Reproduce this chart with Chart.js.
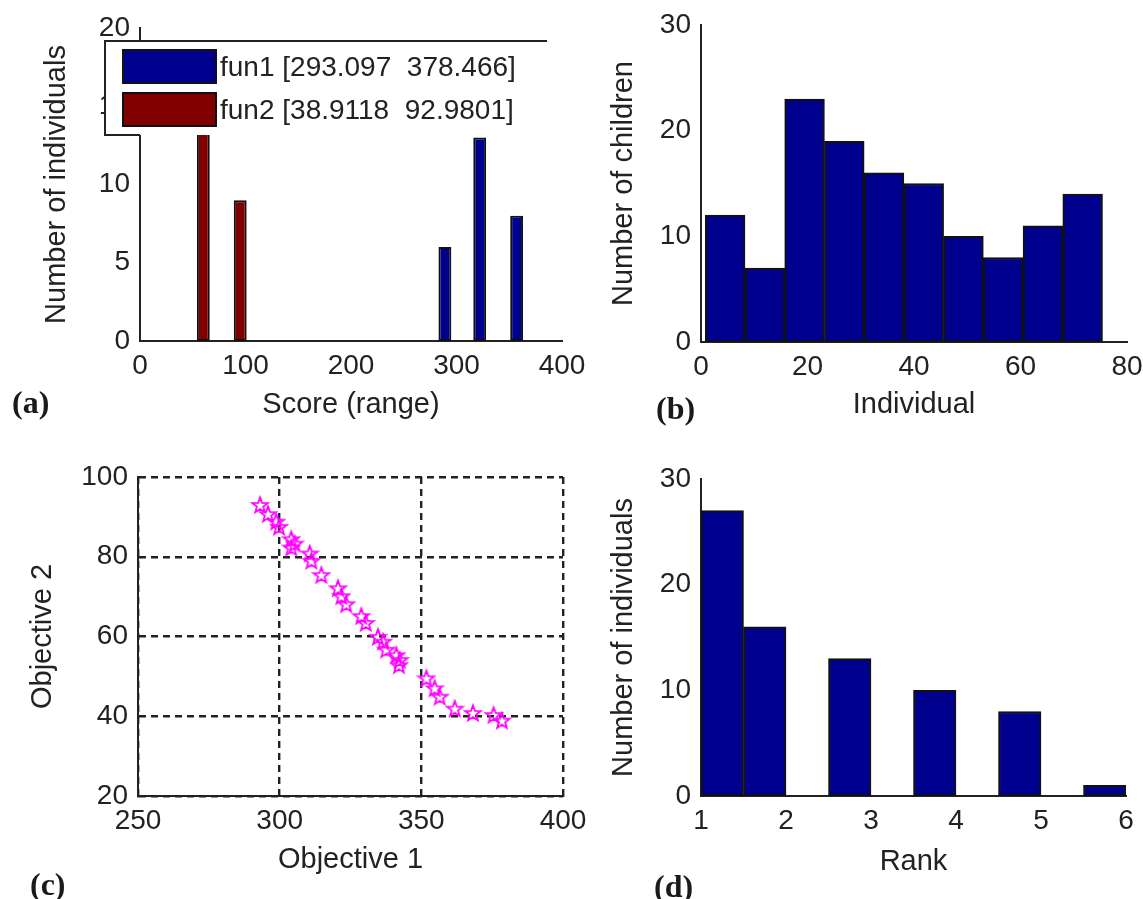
<!DOCTYPE html>
<html>
<head>
<meta charset="utf-8">
<script src="https://cdn.jsdelivr.net/npm/chart.js@4.4.0/dist/chart.umd.min.js"></script>
<style>
body { margin: 0; background: #fff; width: 1143px; height: 899px; overflow: hidden; position: relative; }
canvas { position: absolute; }
.lbl { position: absolute; font: bold 32px "Liberation Serif", serif; line-height: 36px; color: #1a1a1a; }
</style>
</head>
<body>
<canvas id="cA" width="600" height="440" style="left:0;top:0"></canvas>
<canvas id="cB" width="563" height="440" style="left:580px;top:0"></canvas>
<canvas id="cC" width="600" height="459" style="left:0;top:440px"></canvas>
<canvas id="cD" width="563" height="459" style="left:580px;top:440px"></canvas>
<div class="lbl" style="left:12px;top:384px">(a)</div>
<div class="lbl" style="left:656px;top:390px">(b)</div>
<div class="lbl" style="left:30px;top:866px">(c)</div>
<div class="lbl" style="left:654px;top:868px">(d)</div>
<script>
// (a) score histograms
var fun1Bins = [289, 322, 357];
var fun1Count = [6, 13, 8];
var fun2Bins = [60, 95];
var fun2Count = [18, 9];
var aXTicks = [0, 100, 200, 300, 400];
var aYTicks = [0, 5, 10, 15, 20];
var aLegend = ['fun1 [293.097  378.466]', 'fun2 [38.9118  92.9801]'];

// (b) children per individual
var bBins = [4.53, 11.99, 19.45, 26.91, 34.37, 41.83, 49.29, 56.75, 64.21, 71.67];
var bCount = [12, 7, 23, 19, 16, 15, 10, 8, 11, 14];
var bXTicks = [0, 20, 40, 60, 80];
var bYTicks = [0, 10, 20, 30];

// (c) pareto front
var obj1 = [293.1, 295.9, 298.8, 299.8, 304.1, 305.3, 304.1, 310.6, 311.2, 314.7, 320.6, 321.8, 323.5, 328.8,
            330.4, 334.7, 336.5, 337.6, 341.2, 342.4, 342.1, 351.8, 354.7, 356.5, 361.8, 368.2, 375.5, 378.47];
var obj2 = [92.98, 90.7, 88.8, 87.5, 84.4, 83.3, 82.3, 80.8, 79.0, 75.4, 72.1, 70.1, 68.1, 65.1,
            63.4, 59.9, 58.7, 56.7, 55.3, 54.1, 52.8, 49.5, 47.0, 44.9, 41.9, 40.8, 40.3, 38.91];
var cXTicks = [250, 300, 350, 400];
var cYTicks = [20, 40, 60, 80, 100];

// (d) rank histogram
var dBins = [1.25, 1.75, 2.25, 2.75, 3.25, 3.75, 4.25, 4.75, 5.25, 5.75];
var dCount = [27, 16, 0, 13, 0, 10, 0, 8, 0, 1];
var dXTicks = [1, 2, 3, 4, 5, 6];
var dYTicks = [0, 10, 20, 30];

var INK = '#222';
var BLUE = '#00008f';
var RED = '#800000';
var FONT = 'Liberation Sans';

function pts(xs, ys) {
  return xs.map(function(x, i) { return {x: x, y: ys[i]}; });
}

function tickList(list) {
  return function(s) { s.ticks = list.map(function(v) { return {value: v}; }); };
}

// fixed plot box: area = {left, top, right, bottom} in canvas pixels
function scales(area, W, H, xt, yt, xTitle, yTitle, tpad, dashed) {
  var grid = dashed
    ? {display: true, color: INK, lineWidth: 2.4, drawTicks: false, offset: false}
    : {display: false, drawTicks: false, offset: false};
  var border = {display: true, color: INK, width: 2, dash: dashed ? [7, 5] : []};
  return {
    x: {
      type: 'linear', offset: false, min: xt[0], max: xt[xt.length - 1],
      afterBuildTicks: tickList(xt),
      afterFit: function(s) { s.height = H - area.bottom; s.paddingLeft = 0; s.paddingRight = 0; },
      grid: grid, border: border,
      ticks: {color: INK, font: {family: FONT, size: 28}, padding: 8, maxRotation: 0, autoSkip: false},
      title: {display: true, text: xTitle, color: INK, font: {family: FONT, size: 29}, padding: {top: 0, bottom: tpad.x}}
    },
    y: {
      type: 'linear', min: yt[0], max: yt[yt.length - 1],
      afterBuildTicks: tickList(yt),
      afterFit: function(s) { s.width = area.left; s.paddingTop = 0; s.paddingBottom = 0; },
      grid: grid, border: border,
      ticks: {color: INK, font: {family: FONT, size: 28}, padding: 10, autoSkip: false},
      title: {display: true, text: yTitle, color: INK, font: {family: FONT, size: 29}, padding: {top: tpad.y, bottom: 0}}
    }
  };
}

function baseOpts(area, W, H) {
  return {
    responsive: false,
    animation: false,
    devicePixelRatio: 1,
    layout: {padding: {left: 0, top: area.top, right: W - area.right, bottom: 0}},
    plugins: {legend: {display: false}, tooltip: {enabled: false}}
  };
}

// legend laid over the top of panel (a), as in the original figure
var legendBox = {
  id: 'legendBox',
  afterDraw: function(chart) {
    var ctx = chart.ctx;
    var ds = chart.data.datasets;
    ctx.save();
    ctx.fillStyle = '#fff';
    ctx.fillRect(104, 40, 444, 95);
    ctx.strokeStyle = INK;
    ctx.lineWidth = 2;
    ctx.beginPath();
    ctx.moveTo(140, 135);
    ctx.lineTo(105, 135);
    ctx.lineTo(105, 41);
    ctx.lineTo(547, 41);
    ctx.stroke();
    ctx.font = '28px "' + FONT + '"';
    ctx.textBaseline = 'middle';
    for (var i = 0; i < ds.length; i++) {
      var y0 = 50 + i * 43;
      ctx.fillStyle = ds[i].backgroundColor;
      ctx.fillRect(123, y0, 93, 33);
      ctx.lineWidth = 2;
      ctx.strokeStyle = '#111';
      ctx.strokeRect(123, y0, 93, 33);
      ctx.fillStyle = INK;
      ctx.fillText(aLegend[i], 220, y0 + 18);
    }
    ctx.restore();
  }
};

function starMarker() {
  var c = document.createElement('canvas');
  c.width = 20; c.height = 20;
  var g = c.getContext('2d');
  g.strokeStyle = '#ff00ff';
  g.lineWidth = 1.8;
  g.beginPath();
  for (var i = 0; i < 10; i++) {
    var r = i % 2 ? 3.4 : 8.2;
    var a = -Math.PI / 2 + i * Math.PI / 5;
    var px = 10 + r * Math.cos(a), py = 10.6 + r * Math.sin(a);
    if (i) g.lineTo(px, py); else g.moveTo(px, py);
  }
  g.closePath();
  g.stroke();
  return c;
}

function barSet(label, xs, ys, color, pct) {
  return {
    label: label, data: pts(xs, ys),
    backgroundColor: color, borderColor: '#111', borderWidth: 2, borderSkipped: false,
    barPercentage: pct, categoryPercentage: 1, grouped: false
  };
}

window.onload = function() {
  // (a)
  var areaA = {left: 140, top: 28, right: 562, bottom: 341};
  var optA = baseOpts(areaA, 600, 440);
  optA.scales = scales(areaA, 600, 440, aXTicks, aYTicks, 'Score (range)', 'Number of individuals', {x: 18, y: 40}, false);
  new Chart(document.getElementById('cA'), {
    type: 'bar',
    data: {datasets: [
      barSet('fun1', fun1Bins, fun1Count, BLUE, 0.37),
      barSet('fun2', fun2Bins, fun2Count, RED, 0.37)
    ]},
    options: optA,
    plugins: [legendBox]
  });

  // (b)
  var areaB = {left: 121, top: 25, right: 547, bottom: 342};
  var optB = baseOpts(areaB, 563, 440);
  optB.scales = scales(areaB, 563, 440, bXTicks, bYTicks, 'Individual', 'Number of children', {x: 18, y: 27}, false);
  new Chart(document.getElementById('cB'), {
    type: 'bar',
    data: {datasets: [barSet('children', bBins, bCount, BLUE, 1)]},
    options: optB
  });

  // (c)
  var areaC = {left: 138, top: 37, right: 563, bottom: 356};
  var optC = baseOpts(areaC, 600, 459);
  optC.scales = scales(areaC, 600, 459, cXTicks, cYTicks, 'Objective 1', 'Objective 2', {x: 22, y: 26}, true);
  new Chart(document.getElementById('cC'), {
    type: 'scatter',
    data: {datasets: [{
      label: 'front', data: pts(obj1, obj2),
      pointStyle: starMarker(), pointRadius: 8, showLine: false
    }]},
    options: optC
  });

  // (d)
  var areaD = {left: 121, top: 39, right: 546, bottom: 356};
  var optD = baseOpts(areaD, 563, 459);
  optD.scales = scales(areaD, 563, 459, dXTicks, dYTicks, 'Rank', 'Number of individuals', {x: 20, y: 27}, false);
  new Chart(document.getElementById('cD'), {
    type: 'bar',
    data: {datasets: [barSet('rank', dBins, dCount, BLUE, 1)]},
    options: optD
  });
};
</script>
</body>
</html>
